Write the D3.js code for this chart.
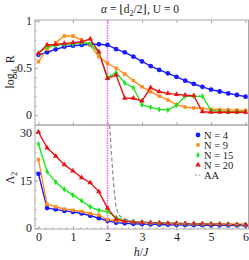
<!DOCTYPE html>
<html>
<head>
<meta charset="utf-8">
<script src="https://cdn.jsdelivr.net/npm/d3@7"></script>
<style>
  body { margin: 0; background: #fff; }
  svg, svg text { font-family: "Liberation Serif", "Times New Roman", "DejaVu Serif", serif; }
</style>
</head>
<body>
<div id="container"></div>
<script>
// h/J grid, one point every 0.25
const hValues = d3.range(0, 6.001, 0.25);

// top panel: log_{d2} R
const rN4 = [0.64, 0.667, 0.698, 0.726, 0.737, 0.745, 0.752, 0.752, 0.745, 0.70, 0.667, 0.62, 0.57, 0.52, 0.479, 0.443, 0.405, 0.365, 0.33, 0.30, 0.27, 0.25, 0.23, 0.213, 0.195];
const rN9 = [0.567, 0.70, 0.77, 0.84, 0.84, 0.80, 0.745, 0.62, 0.55, 0.497, 0.436, 0.366, 0.30, 0.248, 0.20, 0.16, 0.11, 0.085, 0.075, 0.068, 0.062, 0.058, 0.055, 0.052, 0.05];
const rN15 = [0.656, 0.726, 0.74, 0.75, 0.755, 0.77, 0.755, 0.667, 0.40, 0.45, 0.34, 0.29, 0.107, 0.082, 0.06, 0.053, 0.105, 0.20, 0.20, 0.20, 0.05, 0.04, 0.035, 0.035, 0.035];
const rN20 = [0.656, 0.745, 0.75, 0.76, 0.77, 0.78, 0.808, 0.67, 0.39, 0.425, 0.18, 0.178, 0.15, 0.29, 0.247, 0.23, 0.22, 0.21, 0.205, 0.035, 0.03, 0.03, 0.03, 0.03, 0.03];

// bottom panel: Lambda_2
const lN4 = [17.1, 6.3, 5.9, 5.4, 5.1, 4.6, 3.9, 3.1, 2.3, 1.7, 1.5, 1.35, 1.25, 1.15, 1.1, 1.05, 1.0, 0.95, 0.92, 0.9, 0.88, 0.86, 0.84, 0.82, 0.8];
const lN9 = [21.6, 7.5, 6.7, 6.0, 5.6, 5.2, 4.6, 4.1, 2.6, 2.3, 2.1, 1.95, 1.8, 1.7, 1.6, 1.5, 1.45, 1.4, 1.35, 1.3, 1.25, 1.2, 1.15, 1.1, 1.1];
const lN15 = [26.5, 17.8, 14.5, 12.2, 10.4, 8.6, 6.7, 5.6, 5.2, 3.3, 2.3, 2.0, 1.85, 1.7, 1.6, 1.5, 1.45, 1.4, 1.35, 1.3, 1.25, 1.2, 1.15, 1.1, 1.05];
const lN20 = [30.3, 25.3, 22.7, 20.0, 18.0, 15.9, 14.3, 11.5, 6.3, 2.8, 2.2, 1.95, 1.8, 1.7, 1.6, 1.5, 1.45, 1.4, 1.35, 1.3, 1.25, 1.2, 1.15, 1.1, 1.1];

// AA curve (dashed)
const aaH = [2.06, 2.1, 2.15, 2.2, 2.25, 2.32, 2.4, 2.5, 2.75, 3, 3.5, 4, 5, 6];
const aaL = [32.5, 26, 18, 11, 6.5, 4.3, 3.4, 2.8, 2.2, 1.9, 1.6, 1.4, 1.2, 1.05];

const seriesNames = ["N = 4", "N = 9", "N = 15", "N = 20"];
const colors = ["#1a1aff", "#ff8c1a", "#1ee61e", "#e61414"];
const symbols = [d3.symbolCircle, d3.symbolSquare, d3.symbolDiamond, d3.symbolTriangle];
const symSizes = [18, 12, 11, 13];

const topSeries = [rN4, rN9, rN15, rN20];
const botSeries = [lN4, lN9, lN15, lN20];

const serif = '"Liberation Serif", "Times New Roman", "DejaVu Serif", serif';

const w = 249, h = 260;
const svg = d3.select('#container').append('svg')
    .attr('width', w)
    .attr('height', h)
    .attr('font-family', serif);

const left = 35, right = 249;
const x = d3.scaleLinear().domain([-0.1, 6.1]).range([left, right]);
const yTop = d3.scaleLinear().domain([-0.106, 1.01]).range([125, 20]);
const yBot = d3.scaleLinear().domain([-0.3, 32.5]).range([229, 125]);

const frameColor = "#a8a8a8";

svg.append('clipPath').attr('id', 'clipTop')
    .append('rect').attr('x', left).attr('y', 20).attr('width', right - left).attr('height', 105);
svg.append('clipPath').attr('id', 'clipBot')
    .append('rect').attr('x', left).attr('y', 125).attr('width', right - left).attr('height', 104);

// frames
svg.append('rect').attr('x', left).attr('y', 20).attr('width', right - left - 0.5).attr('height', 105)
    .attr('fill', 'none').attr('stroke', frameColor).attr('stroke-width', 1);
svg.append('rect').attr('x', left).attr('y', 125).attr('width', right - left - 0.5).attr('height', 104)
    .attr('fill', 'none').attr('stroke', frameColor).attr('stroke-width', 1);

const styleAxis = (g) => {
    g.attr('font-family', serif);
    g.select('.domain').remove();
    g.selectAll('line').attr('stroke', frameColor);
    g.selectAll('text').attr('font-size', 12).attr('fill', '#222').style('font-family', serif);
};

// y axes
svg.append('g').attr('transform', `translate(${left},0)`)
    .call(d3.axisLeft(yTop).tickValues([0, 0.5, 1]).tickFormat(d3.format('')).tickSize(-3).tickPadding(3))
    .call(styleAxis);
svg.append('g').attr('transform', `translate(${left},0)`)
    .call(d3.axisLeft(yTop).tickValues(d3.range(0, 1.001, 0.1)).tickFormat('').tickSize(-1.5))
    .call(styleAxis);
svg.append('g').attr('transform', `translate(${left},0)`)
    .call(d3.axisLeft(yBot).tickValues([0, 15, 30]).tickSize(-3).tickPadding(3))
    .call(styleAxis);
svg.append('g').attr('transform', `translate(${left},0)`)
    .call(d3.axisLeft(yBot).tickValues(d3.range(0, 31, 3)).tickFormat('').tickSize(-1.5))
    .call(styleAxis);

// x axes
svg.append('g').attr('transform', `translate(0,229)`)
    .call(d3.axisBottom(x).tickValues(d3.range(0, 7)).tickFormat(d3.format('d')).tickSize(-3).tickPadding(3))
    .call(styleAxis);
svg.append('g').attr('transform', `translate(0,229)`)
    .call(d3.axisBottom(x).tickValues(d3.range(0, 6.01, 0.2)).tickFormat('').tickSize(-1.5))
    .call(styleAxis);
svg.append('g').attr('transform', `translate(0,125)`)
    .call(d3.axisBottom(x).tickValues(d3.range(0, 7)).tickFormat('').tickSize(-3))
    .call(styleAxis);
svg.append('g').attr('transform', `translate(0,20)`)
    .call(d3.axisBottom(x).tickValues(d3.range(0, 7)).tickFormat('').tickSize(3))
    .call(styleAxis);

// vertical marker at h/J = 2
svg.append('line')
    .attr('x1', x(2)).attr('x2', x(2)).attr('y1', 20).attr('y2', 229)
    .attr('stroke', '#ff55ff').attr('stroke-width', 1.4).attr('stroke-dasharray', '1.5,1');

const drawPanel = (series, yScale, clipId) => {
    const g = svg.append('g').attr('clip-path', `url(#${clipId})`);
    const lineMaker = d3.line()
        .x((d, i) => x(hValues[i]))
        .y((d) => yScale(d));
    series.forEach((vals, k) => {
        g.append('path')
            .datum(vals)
            .attr('d', lineMaker)
            .attr('fill', 'none')
            .attr('stroke', colors[k])
            .attr('stroke-width', 1.4);
    });
    series.forEach((vals, k) => {
        g.selectAll('.pt' + k).data(vals)
            .enter()
            .append('path')
            .attr('class', 'pt' + k)
            .attr('d', d3.symbol().type(symbols[k]).size(symSizes[k]))
            .attr('transform', (d, i) => `translate(${x(hValues[i])},${yScale(d)})`)
            .attr('fill', colors[k]);
    });
    return g;
};

drawPanel(topSeries, yTop, 'clipTop');
const gBot = drawPanel(botSeries, yBot, 'clipBot');

// AA dashed
gBot.append('path')
    .datum(aaH.map((hh, i) => [hh, aaL[i]]))
    .attr('d', d3.line().x((d) => x(d[0])).y((d) => yBot(d[1])))
    .attr('fill', 'none')
    .attr('stroke', '#8a8a8a')
    .attr('stroke-width', 1.2)
    .attr('stroke-dasharray', '4,2.5');

// legend
const legend = svg.append('g');
seriesNames.forEach((name, k) => {
    const ly = 135 + k * 10;
    legend.append('path')
        .attr('d', d3.symbol().type(symbols[k]).size(symSizes[k]))
        .attr('transform', `translate(198,${ly})`)
        .attr('fill', colors[k]);
    legend.append('text')
        .attr('x', 204).attr('y', ly + 3.5)
        .attr('font-size', 10.5).attr('fill', '#222')
        .style('font-family', serif)
        .text(name);
});
legend.append('line')
    .attr('x1', 195).attr('x2', 201).attr('y1', 175).attr('y2', 175)
    .attr('stroke', '#999').attr('stroke-width', 1).attr('stroke-dasharray', '2,1.5');
legend.append('text')
    .attr('x', 204).attr('y', 178.5)
    .attr('font-size', 10.5).attr('fill', '#222')
    .style('font-family', serif)
    .text('AA');

// title
const title = svg.append('text')
    .attr('x', 140).attr('y', 13)
    .attr('text-anchor', 'middle')
    .attr('font-size', 11.5).attr('fill', '#222')
    .style('font-family', serif);
title.append('tspan').attr('font-style', 'italic').text('α');
title.append('tspan').text(' = ⌊d');
title.append('tspan').attr('font-size', 8).attr('dy', 2.5).text('2');
title.append('tspan').attr('dy', -2.5).text('/2⌋, U = 0');

// y labels
const yl1 = svg.append('text')
    .attr('transform', 'translate(14,72) rotate(-90)')
    .attr('text-anchor', 'middle')
    .attr('font-size', 12).attr('fill', '#222')
    .style('font-family', serif);
yl1.append('tspan').text('log');
yl1.append('tspan').attr('font-size', 8).attr('dy', 3).text('d');
yl1.append('tspan').attr('font-size', 6).attr('dy', 1.5).text('2');
yl1.append('tspan').attr('dy', -4.5).text(' R');

const yl2 = svg.append('text')
    .attr('transform', 'translate(14,178) rotate(-90)')
    .attr('text-anchor', 'middle')
    .attr('font-size', 12).attr('fill', '#222')
    .style('font-family', serif);
yl2.append('tspan').text('Λ');
yl2.append('tspan').attr('font-size', 8).attr('dy', 3).text('2');

// x label
const xl = svg.append('text')
    .attr('x', 141).attr('y', 256)
    .attr('text-anchor', 'middle')
    .attr('font-size', 12).attr('fill', '#222')
    .style('font-family', serif);
xl.append('tspan').attr('font-style', 'italic').text('h');
xl.append('tspan').text('/');
xl.append('tspan').attr('font-style', 'italic').text('J');
</script>
</body>
</html>
